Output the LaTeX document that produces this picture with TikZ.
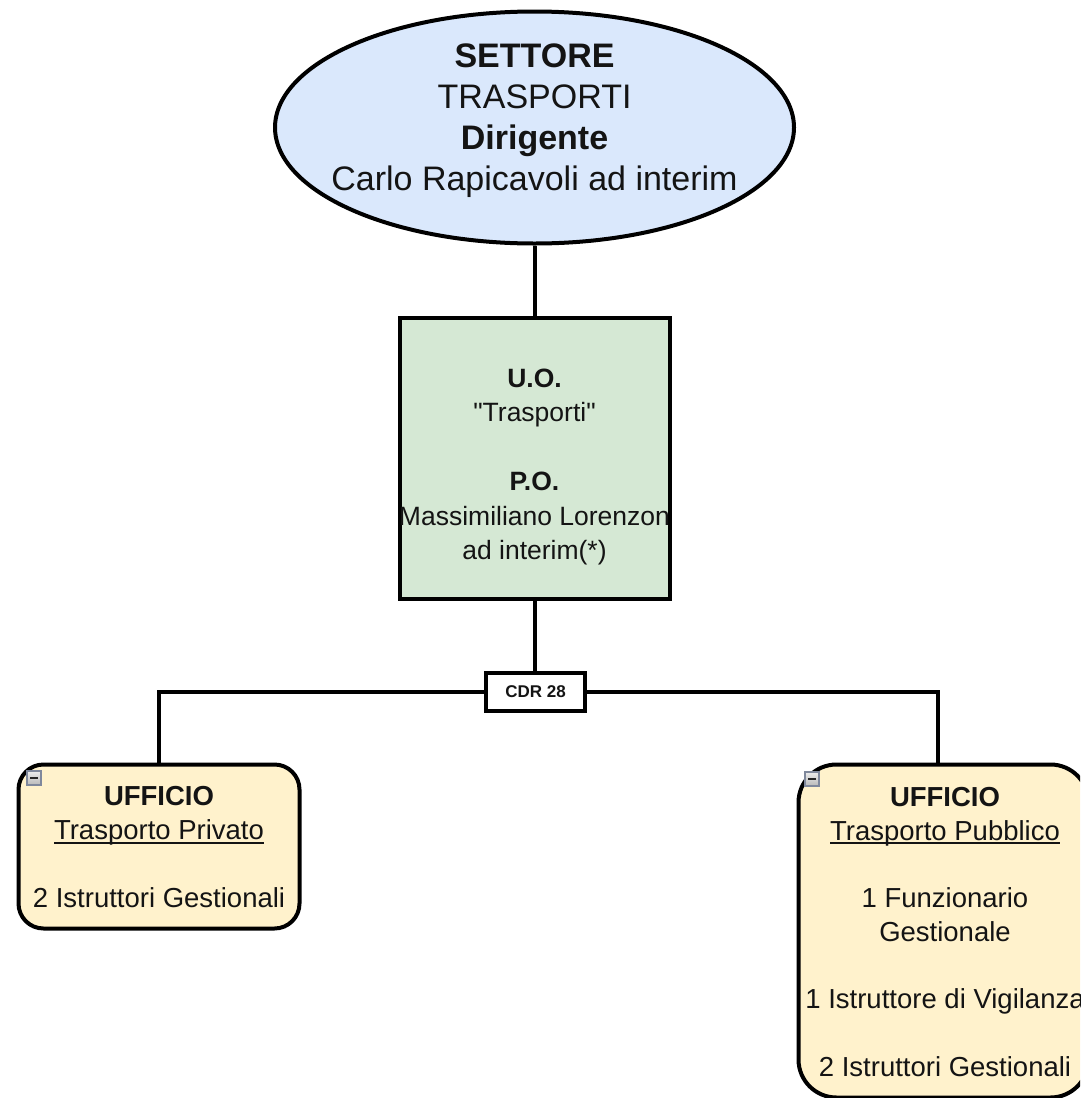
\documentclass[tikz,border=0pt]{standalone}
\usepackage{fontspec}
\setmainfont{Liberation Sans}
\usetikzlibrary{shapes.geometric,calc}
\definecolor{settoreblue}{HTML}{DAE8FC}
\definecolor{uogreen}{HTML}{D5E8D4}
\definecolor{ufficioyellow}{HTML}{FFF2CC}
\definecolor{inkdark}{HTML}{141414}
\definecolor{foldedge}{HTML}{7F889C}

% underline sitting just under the baseline
\newcommand\ulbase[1]{\setbox0\hbox{#1}\rlap{\rule[-4pt]{\wd0}{1.8pt}}\box0}

\begin{document}
\begin{tikzpicture}[x=1pt,y=-1pt,
  link/.style={draw=black, line width=4pt},
  settorebox/.style={ellipse, draw=black, line width=4pt, fill=settoreblue,
    minimum width=519pt, minimum height=232pt, inner sep=0pt},
  settoretext/.style={align=center, inner sep=0pt, text=inkdark,
    font=\fontsize{34}{41}\selectfont},
  uobox/.style={rectangle, draw=black, line width=4pt, fill=uogreen,
    minimum width=270pt, minimum height=281pt, inner sep=0pt},
  uotext/.style={align=center, inner sep=0pt, text=inkdark,
    font=\fontsize{26.5}{34.5}\selectfont},
  cdrbox/.style={rectangle, draw=black, line width=4pt, fill=white,
    minimum width=99pt, minimum height=38pt, inner sep=0pt, text=inkdark,
    font=\fontsize{17}{20}\selectfont\bfseries},
  ufficiobox/.style={rectangle, rounded corners=#1, draw=black, line width=4pt,
    fill=ufficioyellow, inner sep=0pt},
  ufficiotext/.style={align=center, inner sep=0pt, text=inkdark,
    font=\fontsize{27.5}{33.75}\selectfont},
  foldicon/.style={rectangle, draw=foldedge, line width=1.2pt,
    top color=gray!15, bottom color=gray!55, minimum size=14pt, inner sep=0pt,
    path picture={\draw[line width=2.2pt, black!85]
      ($(path picture bounding box.west)+(3.2,0)$) --
      ($(path picture bounding box.east)+(-3.2,0)$);}}
]
\useasboundingbox (0,0) rectangle (1080,1098);
\clip (0,0) rectangle (1080,1098);

% Settore
\node[settorebox] (settore) at (534.5,127.5) {};
\node[settoretext] (settoretxt) at (534.5,121)
  {\textbf{SETTORE}\\TRASPORTI\\\textbf{Dirigente}\\Carlo Rapicavoli ad interim};

% Unita operativa
\node[uobox] (uo) at (534.5,458) {};
\node[uotext] (uotxt) at (534.5,467)
  {\textbf{U.O.}\\\textquotedbl Trasporti\textquotedbl\\[34.5pt]\textbf{P.O.}\\Massimiliano Lorenzon\\ad interim(*)};

% Centro di responsabilita
\node[cdrbox] (cdr) at (535.5,691.5) {CDR 28};

% Uffici
\node[ufficiobox=25pt, minimum width=281pt, minimum height=164pt] (priv) at (159,846.5) {};
\node[ufficiotext] (privtxt) at (159,847)
  {\textbf{UFFICIO}\\\ulbase{Trasporto Privato}\\[33.75pt]2 Istruttori Gestionali};
\node[foldicon] (privfold) at (34,778) {};

\node[ufficiobox=38pt, minimum width=290pt, minimum height=333pt] (pub) at (943.5,931) {};
\node[ufficiotext] (pubtxt) at (945,932)
  {\textbf{UFFICIO}\\\ulbase{Trasporto Pubblico}\\[33.75pt]1 Funzionario\\Gestionale\\[33.75pt]1 Istruttore di Vigilanza\\[33.75pt]2 Istruttori Gestionali};
\node[foldicon] (pubfold) at (812,779) {};
\coordinate (pubtop) at (938,764.5);

% Collegamenti
\draw[link] (settore.south) -- (uo.north);
\draw[link] (uo.south) -- (uo.south |- cdr.north);
\draw[link] (cdr.west) -| (priv.north);
\draw[link] (cdr.east) -| (pubtop);
\end{tikzpicture}
\end{document}
